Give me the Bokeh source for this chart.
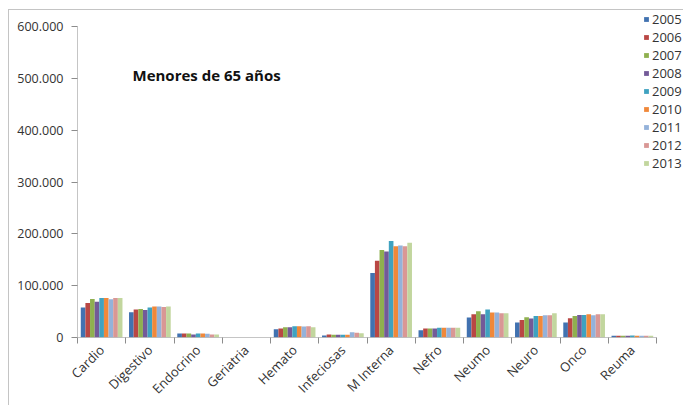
from bokeh.plotting import figure
from bokeh.models import (ColumnDataSource, FixedTicker, Legend, LegendItem)
from bokeh.core.properties import value
from bokeh.embed import file_html
from bokeh.resources import INLINE

categories = ["Cardio", "Digestivo", "Endocrino", "Geriatria", "Hemato", "Infeciosas",
              "M Interna", "Nefro", "Neumo", "Neuro", "Onco", "Reuma"]
years = ["2005", "2006", "2007", "2008", "2009", "2010", "2011", "2012", "2013"]

# values per year, in category order
v2005 = [57700, 48700, 7700, 0, 16000, 3800, 124400, 14000, 38500, 29000, 29000, 3500]
v2006 = [66700, 54000, 7700, 0, 17300, 5800, 148000, 17300, 45000, 34000, 37000, 3500]
v2007 = [74400, 55000, 7700, 0, 20000, 5100, 169000, 17300, 50600, 39000, 41700, 3500]
v2008 = [69000, 53000, 5800, 0, 20000, 5100, 166000, 17300, 45000, 36500, 43600, 3500]
v2009 = [76000, 57700, 7700, 0, 21800, 5100, 186000, 19000, 54000, 41700, 43600, 3800]
v2010 = [76000, 60000, 7700, 0, 21800, 5100, 176000, 19000, 48000, 41700, 45000, 3500]
v2011 = [74000, 60000, 7000, 0, 21000, 10300, 177500, 19000, 48000, 43000, 43000, 3500]
v2012 = [76000, 59000, 5800, 0, 21800, 9000, 176000, 19000, 46800, 43000, 45000, 3500]
v2013 = [76000, 60000, 5800, 0, 20000, 8300, 182700, 19000, 46800, 46800, 45000, 3200]
series = [v2005, v2006, v2007, v2008, v2009, v2010, v2011, v2012, v2013]

y_ticks = [0, 100000, 200000, 300000, 400000, 500000, 600000]
y_tick_labels = ["0", "100.000", "200.000", "300.000", "400.000", "500.000", "600.000"]

title_text = "Menores de 65 años"

colors = ["#4172B0", "#B94744", "#8FB04F", "#735A98", "#3FA2C0",
          "#F0883A", "#94B2DA", "#D99795", "#C2D69E"]

FONT = "Open Sans"
n = len(categories)
ymax = y_ticks[-1]

# plot area of the reference spans 579 x 311 px; the frame is made larger so the
# legend (which sits partly outside the axes) is not clipped
FW, FH = 606, 327
x_end = n * FW / 579.0
y_end = ymax * FH / 311.0

# outer chart border sits at x=8, y=9 of the window
p = figure(width=674, height=395, output_backend="svg", toolbar_location=None,
           x_range=(0, x_end), y_range=(0, y_end),
           min_border_left=68, min_border_right=0, min_border_top=0, min_border_bottom=68,
           frame_width=FW, frame_height=FH)
p.styles = {"margin-left": "8px", "margin-top": "9px",
            "border-left": "1px solid #c4c4c4", "border-top": "1px solid #c4c4c4"}
p.outline_line_color = None
p.xgrid.visible = False
p.ygrid.visible = False
p.background_fill_color = "white"
p.border_fill_color = "white"

bw = 0.096
items = []
for j, (yr, vals, col) in enumerate(zip(years, series, colors)):
    xs = [i + 0.5 + (j - 4) * bw for i in range(n)]
    src = ColumnDataSource(dict(x=xs, top=vals))
    r = p.vbar(x="x", top="top", width=bw, source=src, fill_color=col, line_color=None)
    items.append(LegendItem(label=yr, renderers=[r]))

# axis lines limited to the category / value extent
p.segment(x0=[0, 0], y0=[0, 0], x1=[n, 0], y1=[0, ymax], line_color="#8c8c8c", line_width=1)

# y axis
yax = p.yaxis[0]
yax.ticker = FixedTicker(ticks=y_ticks)
yax.major_label_overrides = {t: l for t, l in zip(y_ticks, y_tick_labels)}
yax.major_tick_out = 6
yax.major_tick_in = 0
yax.minor_tick_out = 0
yax.minor_tick_in = 0
yax.axis_line_color = None
yax.major_tick_line_color = "#8c8c8c"
yax.major_label_text_font = FONT
yax.major_label_text_font_size = "12.5px"
yax.major_label_text_color = "#333333"
yax.major_label_standoff = 8

# x axis
xax = p.xaxis[0]
centers = [i + 0.5 for i in range(n)]
xax.ticker = FixedTicker(ticks=centers, minor_ticks=list(range(n + 1)))
xax.major_label_overrides = {c: name for c, name in zip(centers, categories)}
xax.major_tick_out = 0
xax.major_tick_in = 0
xax.minor_tick_out = 6
xax.minor_tick_in = 0
xax.axis_line_color = None
xax.minor_tick_line_color = "#8c8c8c"
xax.major_label_orientation = 0.785398
xax.major_label_text_font = FONT
xax.major_label_text_font_size = "13px"
xax.major_label_text_color = "#333333"
xax.major_label_standoff = 4

# title text inside the chart
p.text(x=[1.14], y=[506000], text=[title_text], text_font=value(FONT),
       text_font_size="15px", text_font_style="bold", text_color="#111111",
       text_baseline="middle", text_align="left")

legend = Legend(items=items, location=(566, 165), orientation="vertical",
                glyph_width=6, glyph_height=6, label_standoff=3, spacing=0,
                padding=0, margin=0, label_height=12,
                label_text_font=FONT, label_text_font_size="13px",
                label_text_color="#333333", border_line_color=None,
                background_fill_alpha=0)
p.add_layout(legend)

open("out.html", "w").write(file_html(p, INLINE))
